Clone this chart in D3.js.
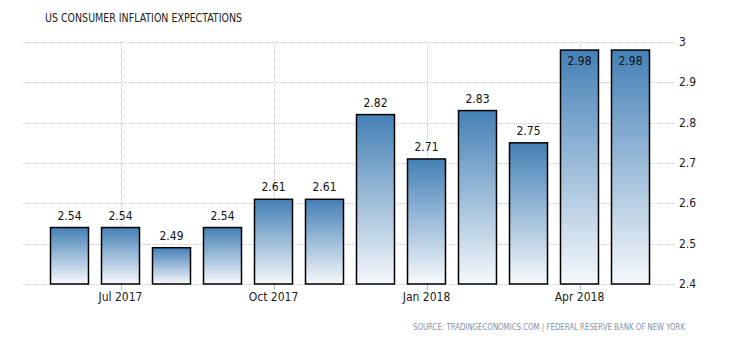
<!DOCTYPE html>
<html><head><meta charset="utf-8">
<script src="https://cdn.jsdelivr.net/npm/d3@7"></script>
<style>
html,body{margin:0;padding:0;background:#fff;}
svg{display:block;font-family:"DejaVu Sans Condensed","DejaVu Sans",Tahoma,sans-serif;}
</style></head>
<body>
<svg id="chart" width="730" height="340"></svg>
<script>
const months = ["Jun 2017","Jul 2017","Aug 2017","Sep 2017","Oct 2017","Nov 2017","Dec 2017","Jan 2018","Feb 2018","Mar 2018","Apr 2018","May 2018"];
const values = [2.54,2.54,2.49,2.54,2.61,2.61,2.82,2.71,2.83,2.75,2.98,2.98];
const xTickLabels = ["Jul 2017","Oct 2017","Jan 2018","Apr 2018"];
const yTicks = [2.4,2.5,2.6,2.7,2.8,2.9,3.0];
const title = "US CONSUMER INFLATION EXPECTATIONS";
const source = "SOURCE: TRADINGECONOMICS.COM | FEDERAL RESERVE BANK OF NEW YORK";

const svg = d3.select("#chart");
const x = d3.scaleBand().domain(months).range([44,656]).paddingInner(0.255).paddingOuter(0.1275);
const y = d3.scaleLinear().domain([2.4,3.0]).range([284,42]);

const defs = svg.append("defs");
const grad = defs.append("linearGradient").attr("id","barGrad").attr("x1",0).attr("y1",0).attr("x2",0).attr("y2",1);
grad.append("stop").attr("offset","0%").attr("stop-color","#4480b6");
grad.append("stop").attr("offset","100%").attr("stop-color","#f6f9fc");

// horizontal gridlines
svg.append("g").selectAll("line").data(yTicks).join("line")
  .attr("x1",22).attr("x2",676)
  .attr("y1",d=>Math.round(y(d))+0.5).attr("y2",d=>Math.round(y(d))+0.5)
  .attr("stroke","#c8c8c8").attr("stroke-dasharray","1,1");

// vertical gridlines + ticks
const tx = d=>Math.round(x(d)+x.bandwidth()/2)+0.5;
svg.append("g").selectAll("line").data(xTickLabels).join("line")
  .attr("x1",tx).attr("x2",tx).attr("y1",42).attr("y2",284)
  .attr("stroke","#c8c8c8").attr("stroke-dasharray","1,1");
svg.append("g").selectAll("line").data(xTickLabels).join("line")
  .attr("x1",tx).attr("x2",tx).attr("y1",284).attr("y2",290)
  .attr("stroke","#bbb");

// bars
svg.append("g").selectAll("rect").data(values).join("rect")
  .attr("x",(d,i)=>x(months[i]))
  .attr("y",d=>y(d))
  .attr("width",x.bandwidth())
  .attr("height",d=>y(2.4)-y(d))
  .attr("fill","url(#barGrad)")
  .attr("stroke","#000").attr("stroke-width",1.5);

// value labels
svg.append("g").selectAll("text").data(values).join("text")
  .attr("x",(d,i)=>x(months[i])+x.bandwidth()/2)
  .attr("y",d=> y(d) < 60 ? y(d)+15 : y(d)-8)
  .attr("text-anchor","middle")
  .attr("font-size",12).attr("fill","#111")
  .text(d=>d.toFixed(2));

// y axis labels
svg.append("g").selectAll("text").data(yTicks).join("text")
  .attr("x",679).attr("y",d=>y(d)+4)
  .attr("font-size",12).attr("fill","#222")
  .text(d=>d===3?"3":d.toFixed(1));

// x labels
svg.append("g").selectAll("text").data(xTickLabels).join("text")
  .attr("x",d=>x(d)+x.bandwidth()/2).attr("y",301)
  .attr("text-anchor","middle")
  .attr("font-size",12).attr("fill","#222")
  .text(d=>d);

svg.append("text").attr("x",45).attr("y",22).attr("font-size",12).attr("fill","#222")
  .attr("textLength",197).attr("lengthAdjust","spacingAndGlyphs").text(title);
svg.append("text").attr("x",413).attr("y",330).attr("font-size",8.5).attr("fill","#7f91a8")
  .attr("textLength",272).attr("lengthAdjust","spacingAndGlyphs").text(source);
</script>
</body></html>
